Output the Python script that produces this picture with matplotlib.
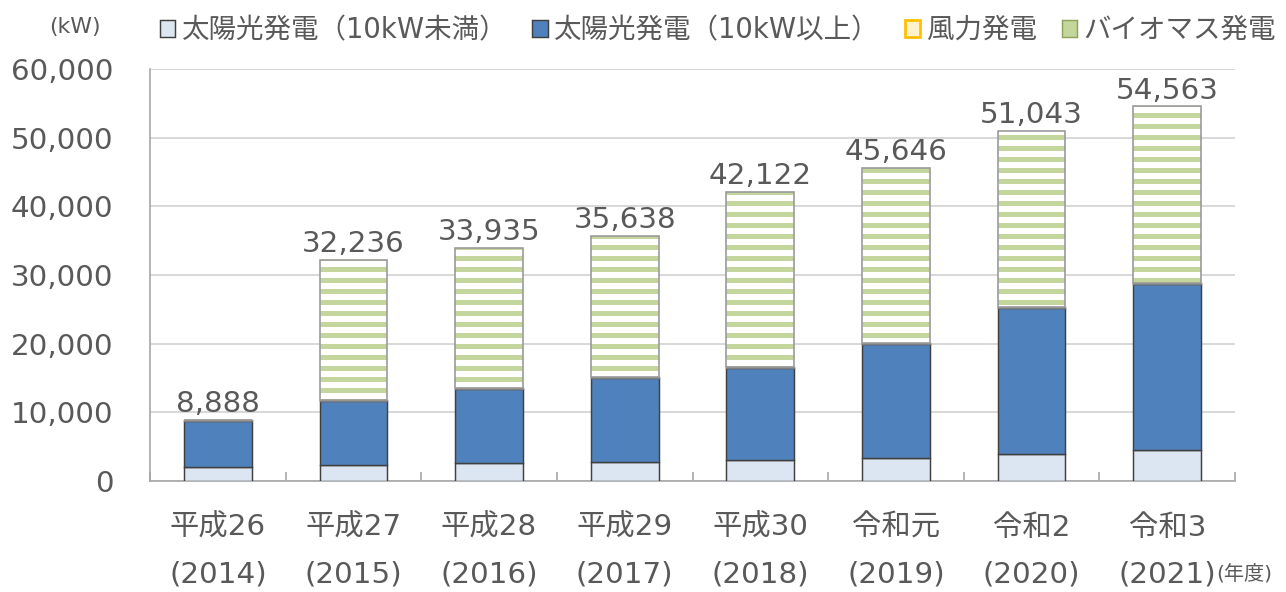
import matplotlib
matplotlib.use('Agg')
import matplotlib.pyplot as plt
import matplotlib.patches as mpatches
import numpy as np

plt.rcParams['font.family'] = ['DejaVu Sans', 'Noto Sans CJK JP']

# data (kW)
years = ['平成26\n(2014)', '平成27\n(2015)', '平成28\n(2016)', '平成29\n(2017)',
         '平成30\n(2018)', '令和元\n(2019)', '令和2\n(2020)', '令和3\n(2021)']
solar_small = [2030, 2330, 2600, 2770, 3060, 3350, 3930, 4500]
solar_large = [6760, 9320, 10800, 12230, 13400, 16600, 21270, 24200]
wind = [98, 100, 100, 100, 100, 100, 100, 100]
totals = [8888, 32236, 33935, 35638, 42122, 45646, 51043, 54563]
biomass = [t - a - b - c for t, a, b, c in zip(totals, solar_small, solar_large, wind)]

series_names = ['太陽光発電（10kW未満）', '太陽光発電（10kW以上）', '風力発電', 'バイオマス発電']

TXT = '#595959'
DPI = 132
plt.rcParams['hatch.linewidth'] = 2.7

fig = plt.figure(figsize=(1286 / DPI, 592 / DPI), dpi=DPI)
ax = fig.add_axes([150 / 1286, 1 - 481 / 592, (1235 - 150) / 1286, 412 / 592])

x = np.arange(len(years))
w = 0.5
b0 = np.array(solar_small)
b1 = b0 + np.array(solar_large)
b2 = b1 + np.array(wind)

ax.bar(x, solar_small, w, color='#DCE6F2', edgecolor='#404040', linewidth=0.8, zorder=3)
ax.bar(x, solar_large, w, bottom=b0, color='#4F81BD', edgecolor='#404040', linewidth=0.8, zorder=3)
ax.bar(x, wind, w, bottom=b1, color='#FFD966', edgecolor='#7F7F7F', linewidth=0.8, zorder=3)
ax.bar(x, biomass, w, bottom=b2, color='white', edgecolor='#C3D69B', hatch='--', linewidth=0, zorder=3)
ax.bar(x, biomass, w, bottom=b2, fill=False, edgecolor='#9A9A9A', linewidth=0.9, zorder=4)

for xi, t in zip(x, totals):
    ax.annotate(f'{t:,}', (xi, t), xytext=(0, 1), textcoords='offset points',
                ha='center', va='bottom', fontsize=16, color=TXT)

ax.set_xlim(-0.5, len(years) - 0.5)
ax.set_ylim(0, 60000)
ax.set_yticks(np.arange(0, 60001, 10000))
ax.set_yticklabels([f'{v:,}' for v in range(0, 60001, 10000)])
ax.yaxis.grid(True, color='#D9D9D9', linewidth=1.1, zorder=0)
ax.set_axisbelow(True)

ax.set_xticks(x)
ax.set_xticklabels(years, linespacing=1.85)
ax.set_xticks(np.arange(-0.5, len(years)), minor=True)
ax.tick_params(axis='x', which='major', length=0, pad=18, labelsize=16, labelcolor=TXT)
ax.tick_params(axis='x', which='minor', direction='in', length=5, color='#A6A6A6', width=0.9)
ax.tick_params(axis='y', length=0, pad=20, labelsize=16, labelcolor=TXT)

for s in ['top', 'right']:
    ax.spines[s].set_visible(False)
ax.spines['left'].set_color('#A6A6A6')
ax.spines['bottom'].set_color('#A6A6A6')
ax.spines['left'].set_linewidth(0.9)
ax.spines['bottom'].set_linewidth(0.9)

fig.text(75 / 1286, 1 - 27 / 592, '(kW)', ha='center', va='center', fontsize=12, color=TXT)
fig.text(1216 / 1286, 1 - 575 / 592, '(年度)', ha='left', va='center', fontsize=11, color=TXT)

handles = [
    mpatches.Patch(facecolor='#DCE6F2', edgecolor='#404040', linewidth=0.8),
    mpatches.Patch(facecolor='#4F81BD', edgecolor='#404040', linewidth=0.8),
    mpatches.Patch(facecolor='#FFF2CC', edgecolor='#FFC000', linewidth=1.5),
    mpatches.Patch(facecolor='#C3D69B', edgecolor='#8FA35E', linewidth=0.8),
]
leg = fig.legend(handles, series_names, loc='center left', bbox_to_anchor=(160 / 1286, 1 - 30 / 592),
                 ncol=4, frameon=False, fontsize=15, handlelength=0.55, handleheight=0.55,
                 handletextpad=0.25, columnspacing=0.9, borderaxespad=0, borderpad=0)
for t in leg.get_texts():
    t.set_color(TXT)

fig.savefig('out.png', dpi=DPI)
